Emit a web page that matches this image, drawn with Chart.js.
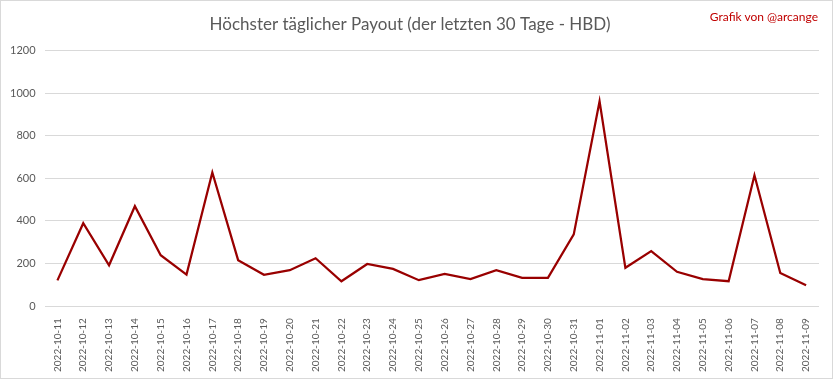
<!DOCTYPE html>
<html>
<head>
<meta charset="utf-8">
<script src="https://cdn.jsdelivr.net/npm/chart.js@4.4.0/dist/chart.umd.min.js"></script>
<style>
    html, body { margin: 0; padding: 0; background: #fff; }
    #wrap { position: relative; width: 831px; height: 377px; border: 1px solid #d9d9d9; }
    #credit { position: absolute; right: 14px; top: 8px; font-family: Lato, sans-serif; font-size: 12px; color: #c00000; }
</style>
</head>
<body>
<div id="wrap">
    <canvas id="payoutChart" width="831" height="377"></canvas>
    <div id="credit">Grafik von @arcange</div>
</div>
<script>
// Höchster täglicher Payout, last 30 days (HBD)
const dates = [
    '2022-10-11', '2022-10-12', '2022-10-13', '2022-10-14', '2022-10-15', '2022-10-16',
    '2022-10-17', '2022-10-18', '2022-10-19', '2022-10-20', '2022-10-21', '2022-10-22',
    '2022-10-23', '2022-10-24', '2022-10-25', '2022-10-26', '2022-10-27', '2022-10-28',
    '2022-10-29', '2022-10-30', '2022-10-31', '2022-11-01', '2022-11-02', '2022-11-03',
    '2022-11-04', '2022-11-05', '2022-11-06', '2022-11-07', '2022-11-08', '2022-11-09'
];
const payouts = [
    121, 389, 192, 469, 239, 148,
    627, 216, 147, 169, 225, 117,
    198, 175, 122, 151, 127, 169,
    133, 133, 337, 961, 180, 258,
    161, 127, 117, 614, 156, 98
];
const yTicks = [0, 200, 400, 600, 800, 1000, 1200];

const textColor = '#595959';
const gridColor = '#d9d9d9';

const ctx = document.getElementById('payoutChart').getContext('2d');
new Chart(ctx, {
    type: 'line',
    data: {
        labels: dates,
        datasets: [{
            label: 'Payout',
            data: payouts,
            borderColor: '#990000',
            borderWidth: 2.25,
            pointRadius: 0,
            tension: 0,
            fill: false
        }]
    },
    options: {
        responsive: false,
        animation: false,
        layout: { padding: { left: 0, right: 13, top: 4, bottom: 2 } },
        plugins: {
            legend: { display: false },
            tooltip: { enabled: false },
            title: {
                display: true,
                text: 'Höchster täglicher Payout (der letzten 30 Tage - HBD)',
                color: textColor,
                font: { family: 'Lato', size: 17, weight: 'normal' },
                padding: { top: 9, bottom: 16 }
            }
        },
        scales: {
            x: {
                offset: true,
                grid: { display: false },
                border: { display: false },
                ticks: {
                    autoSkip: false,
                    minRotation: 90,
                    maxRotation: 90,
                    color: textColor,
                    font: { family: 'Lato', size: 10 },
                    padding: 4
                }
            },
            y: {
                min: 0,
                max: 1200,
                afterBuildTicks: axis => { axis.ticks = yTicks.map(v => ({ value: v })); },
                grid: { color: gridColor, drawTicks: false },
                border: { display: false },
                ticks: {
                    color: textColor,
                    font: { family: 'Lato', size: 11 },
                    padding: 9,
                    callback: v => String(v)
                }
            }
        }
    }
});
</script>
</body>
</html>
